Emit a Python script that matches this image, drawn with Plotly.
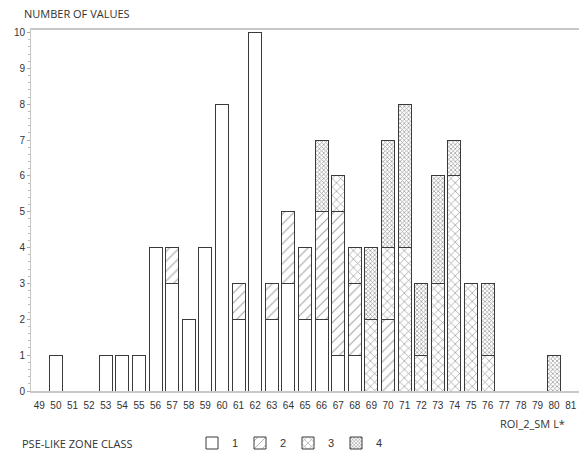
import plotly.graph_objects as go

# ---- data ----
categories = [49, 50, 51, 52, 53, 54, 55, 56, 57, 58, 59, 60, 61, 62, 63, 64, 65,
              66, 67, 68, 69, 70, 71, 72, 73, 74, 75, 76, 77, 78, 79, 80, 81]
class1 = [None, 1, None, None, 1, 1, 1, 4, 3, 2, 4, 8, 2, 10, 2, 3, 2,
          2, 1, 1, None, None, None, None, None, None, None, None, None, None, None, None, None]
class2 = [None, None, None, None, None, None, None, None, 1, None, None, None, 1, None, 1, 2, 2,
          3, 4, 2, None, 2, None, None, None, None, None, None, None, None, None, None, None]
class3 = [None, None, None, None, None, None, None, None, None, None, None, None, None, None, None, None, None,
          None, 1, 1, 2, 2, 4, 1, 3, 6, 3, 1, None, None, None, None, None]
class4 = [None, None, None, None, None, None, None, None, None, None, None, None, None, None, None, None, None,
          2, None, None, 2, 3, 4, 2, 3, 1, None, 2, None, None, None, 1, None]
class_names = ["1", "2", "3", "4"]
y_ticks = [0, 1, 2, 3, 4, 5, 6, 7, 8, 9, 10]

W, H = 579, 453
ml, mr, mt, mb = 31, 0, 30, 62
pw, ph = W - ml - mr, H - mt - mb

def px_x(p):
    return (p - ml) / pw

def px_y(p):
    return (H - mb - p) / ph

line = dict(color="#3a3a3a", width=1)
patterns = [
    dict(shape=""),
    dict(shape="/", fgcolor="#444444", bgcolor="white", size=7, solidity=0.15),
    dict(shape="x", fgcolor="#333333", bgcolor="white", size=6, solidity=0.22),
    dict(shape="x", fgcolor="#444444", bgcolor="white", size=3, solidity=0.45),
]

fig = go.Figure()
for name, vals, pat in zip(class_names, [class1, class2, class3, class4], patterns):
    fig.add_trace(go.Bar(
        x=categories, y=vals, name=name, width=0.78,
        marker=dict(color="white", line=line, pattern=pat),
    ))

font_main = "Liberation Sans, Arial, sans-serif"
font_label = "Open Sans, Noto Sans, sans-serif"

fig.update_layout(
    width=W, height=H,
    margin=dict(l=ml, r=mr, t=mt, b=mb, autoexpand=False),
    barmode="stack",
    plot_bgcolor="white", paper_bgcolor="white",
    font=dict(family=font_main, size=10, color="#333333"),
    showlegend=True,
    legend=dict(orientation="h", x=px_x(192), xanchor="left",
                y=px_y(443), yanchor="middle", traceorder="normal",
                entrywidth=3, entrywidthmode="pixels",
                font=dict(family=font_main, size=11, color="#333333"),
                itemwidth=30, tracegroupgap=0, bgcolor="rgba(0,0,0,0)"),
    xaxis=dict(range=[48.5, 81.5], tickmode="array", tickvals=categories,
               ticktext=[str(c) for c in categories], automargin=False,
               showline=True, linecolor="#c8c8c8", linewidth=1.5, mirror=True,
               ticks="", showgrid=False, zeroline=False, ticklabelstandoff=4,
               tickfont=dict(size=10, color="#333333")),
    yaxis=dict(range=[0, 10.07], tickmode="array", tickvals=y_ticks, automargin=False,
               showline=True, linecolor="#c8c8c8", linewidth=1,
               ticks="outside", ticklen=3, tickcolor="#aaaaaa",
               minor=dict(dtick=0.2, ticks="outside", ticklen=2, tickcolor="#bbbbbb"),
               showgrid=False, zeroline=False,
               tickfont=dict(size=10, color="#333333")),
    annotations=[
        dict(text="NUMBER OF VALUES", xref="paper", yref="paper",
             x=px_x(22), y=px_y(14), xanchor="left", yanchor="middle",
             showarrow=False, font=dict(family=font_label, size=11, color="#333333")),
        dict(text="ROI_2_SM L*", xref="paper", yref="paper",
             x=px_x(567), y=px_y(423), xanchor="right", yanchor="middle",
             showarrow=False, font=dict(family=font_label, size=11, color="#333333")),
        dict(text="PSE-LIKE ZONE CLASS", xref="paper", yref="paper",
             x=px_x(20), y=px_y(443), xanchor="left", yanchor="middle",
             showarrow=False, font=dict(family=font_label, size=11, color="#333333")),
    ],
)

fig.write_html("out.html", config={"displayModeBar": False},
               post_script="document.body.style.margin='0';document.body.style.padding='0';document.body.style.overflow='hidden';")
